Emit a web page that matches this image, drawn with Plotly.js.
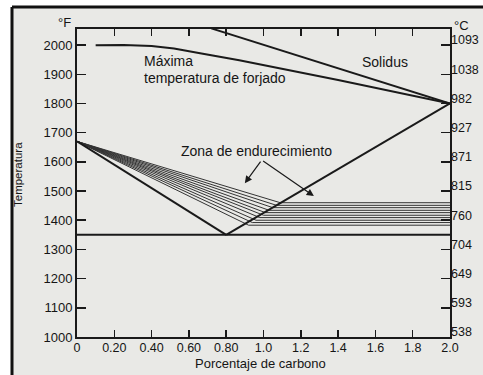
<!DOCTYPE html>
<html>
<head>
<meta charset="utf-8">
<script src="https://cdn.plot.ly/plotly-3.0.1.min.js"></script>
<style>html,body{margin:0;padding:0;background:#fff;}#chart{width:483px;height:375px;}</style>
</head>
<body>
<div id="chart"></div>
<script>
// ---- data (°F vs % carbon) ----
var xTickVals = [0, 0.2, 0.4, 0.6, 0.8, 1.0, 1.2, 1.4, 1.6, 1.8, 2.0];
var xTickText = ['0', '0.20', '0.40', '0.60', '0.80', '1.0', '1.2', '1.4', '1.6', '1.8', '2.0'];
var yTicksF = [1000, 1100, 1200, 1300, 1400, 1500, 1600, 1700, 1800, 1900, 2000];
var yTicksC = ['538', '593', '649', '704', '760', '815', '871', '927', '982', '1038', '1093'];

var solidusX = [0.72, 2.0];
var solidusY = [2057, 1800];

var forgeX = [0.10, 0.25, 0.40, 0.52, 0.66, 0.87, 1.40, 2.0];
var forgeY = [1999, 2000, 1997, 1988, 1972, 1948, 1880, 1800];

var a3X = [0, 0.80];
var a3Y = [1670, 1350];

var acmX = [0.80, 2.0];
var acmY = [1350, 1800];

var a1X = [0, 2.0];
var a1Y = [1350, 1350];

// hardening zone: lines fanning from (0,1670), bending to horizontal
var fanStartX = 0;
var fanStartY = 1670;
var fanEndX = 2.0;
var fanBendX = [0.92, 0.94, 0.96, 0.98, 1.00, 1.01, 1.03, 1.05, 1.07, 1.09];
var fanBendY = [1383, 1392, 1400, 1409, 1417, 1426, 1434, 1443, 1451, 1460];

// arrows of "Zona de endurecimiento"
var arrowFromX = 0.99, arrowFromY = 1606;
var arrowTipX = [0.90, 1.27];
var arrowTipY = [1527, 1483];

// ---- build ----
var ink = '#1a1a1a';
var traces = [];
function line(x, y, w, c) {
  traces.push({x: x, y: y, type: 'scatter', mode: 'lines',
    line: {color: c || ink, width: w}, hoverinfo: 'skip', showlegend: false});
}
line(solidusX, solidusY, 2);
line(forgeX, forgeY, 2);
for (var i = 0; i < fanBendX.length; i++) {
  line([fanStartX, fanBendX[i], fanEndX], [fanStartY, fanBendY[i], fanBendY[i]], 1, '#333333');
}
line(a3X, a3Y, 2);
line(acmX, acmY, 2);
line(a1X, a1Y, 2);
// carrier for right (°C) axis
traces.push({x: [0], y: [1000], yaxis: 'y2', type: 'scatter', mode: 'markers',
  marker: {opacity: 0}, hoverinfo: 'skip', showlegend: false});

var fam = 'Liberation Sans, Arial, sans-serif';
var font = {family: fam, size: 14, color: '#151515'};
var tickFontY = {family: fam, size: 13, color: '#151515'};
var tickFontY2 = {family: fam, size: 12.5, color: '#151515'};
var tickFontX = {family: fam, size: 12.5, color: '#151515'};
var L = 77, R = 33, T = 29, B = 38, W = 483, H = 375;
var pw = W - L - R, ph = H - T - B;
function px2x(p) { return (p - L) / pw; }
function px2y(p) { return (H - B - p) / ph; }
function txt(xp, yp, s, extra) {
  var a = {xref: 'paper', yref: 'paper', x: px2x(xp), y: px2y(yp), text: s, showarrow: false,
    xanchor: 'center', yanchor: 'middle', font: font};
  for (var k in extra) a[k] = extra[k];
  return a;
}

var annotations = [
  txt(64, 22, '°F', {font: tickFontY}),
  txt(461, 25, '°C', {font: tickFontY}),
  txt(18, 175, 'Temperatura', {textangle: -90, font: {family: fam, size: 11.5, color: '#151515'}}),
  txt(260, 364, 'Porcentaje de carbono', {font: {family: fam, size: 13, color: '#151515'}}),
  {x: 0.35, y: 1945, text: 'Máxima', xanchor: 'left', yanchor: 'middle', showarrow: false, font: font},
  {x: 0.35, y: 1888, text: 'temperatura de forjado', xanchor: 'left', yanchor: 'middle', showarrow: false, font: font},
  {x: 1.65, y: 1941, text: 'Solidus', xanchor: 'center', yanchor: 'middle', showarrow: false, font: font},
  {x: 0.96, y: 1636, text: 'Zona de endurecimiento', xanchor: 'center', yanchor: 'middle', showarrow: false, font: font}
];
for (var k = 0; k < arrowTipX.length; k++) {
  annotations.push({x: arrowTipX[k], y: arrowTipY[k], ax: arrowFromX, ay: arrowFromY,
    axref: 'x', ayref: 'y', text: '', showarrow: true, arrowhead: 2, arrowsize: 1.2,
    arrowwidth: 1.2, arrowcolor: ink, standoff: 0});
}

var shapes = [
  {type: 'rect', xref: 'paper', yref: 'paper', x0: px2x(12), x1: px2x(490), y0: px2y(380), y1: px2y(7),
    fillcolor: '#e9e9e6', line: {width: 0}, layer: 'below'},
  {type: 'line', xref: 'paper', yref: 'paper', x0: px2x(12), x1: px2x(490), y0: px2y(7), y1: px2y(7),
    line: {color: '#111', width: 3}},
  {type: 'line', xref: 'paper', yref: 'paper', x0: px2x(12), x1: px2x(12), y0: px2y(7), y1: px2y(380),
    line: {color: '#111', width: 3}}
];

var layout = {
  width: W, height: H,
  margin: {l: L, r: R, t: T, b: B, pad: 0},
  paper_bgcolor: '#ffffff', plot_bgcolor: 'rgba(0,0,0,0)',
  font: font, showlegend: false,
  xaxis: {range: [0, 2.0], tickvals: xTickVals, ticktext: xTickText, ticks: 'inside', ticklen: 7,
    tickwidth: 1.5, tickcolor: ink, showline: true, linewidth: 2, linecolor: ink, mirror: 'ticks',
    showgrid: false, zeroline: false, tickfont: tickFontX, ticklabelstandoff: -2},
  yaxis: {range: [1000, 2055], tickvals: yTicksF, ticks: 'inside', ticklen: 9, tickwidth: 1.5,
    tickcolor: ink, showline: true, linewidth: 2, linecolor: ink, mirror: 'ticks',
    showgrid: false, zeroline: false, tickfont: tickFontY},
  yaxis2: {range: [1000, 2055], overlaying: 'y', side: 'right', tickvals: yTicksF, ticktext: yTicksC,
    ticks: '', showline: false, showgrid: false, zeroline: false, tickfont: tickFontY2,
    ticklabelshift: -5},
  annotations: annotations,
  shapes: shapes
};

Plotly.newPlot('chart', traces, layout, {displayModeBar: false, staticPlot: true});
</script>
</body>
</html>
